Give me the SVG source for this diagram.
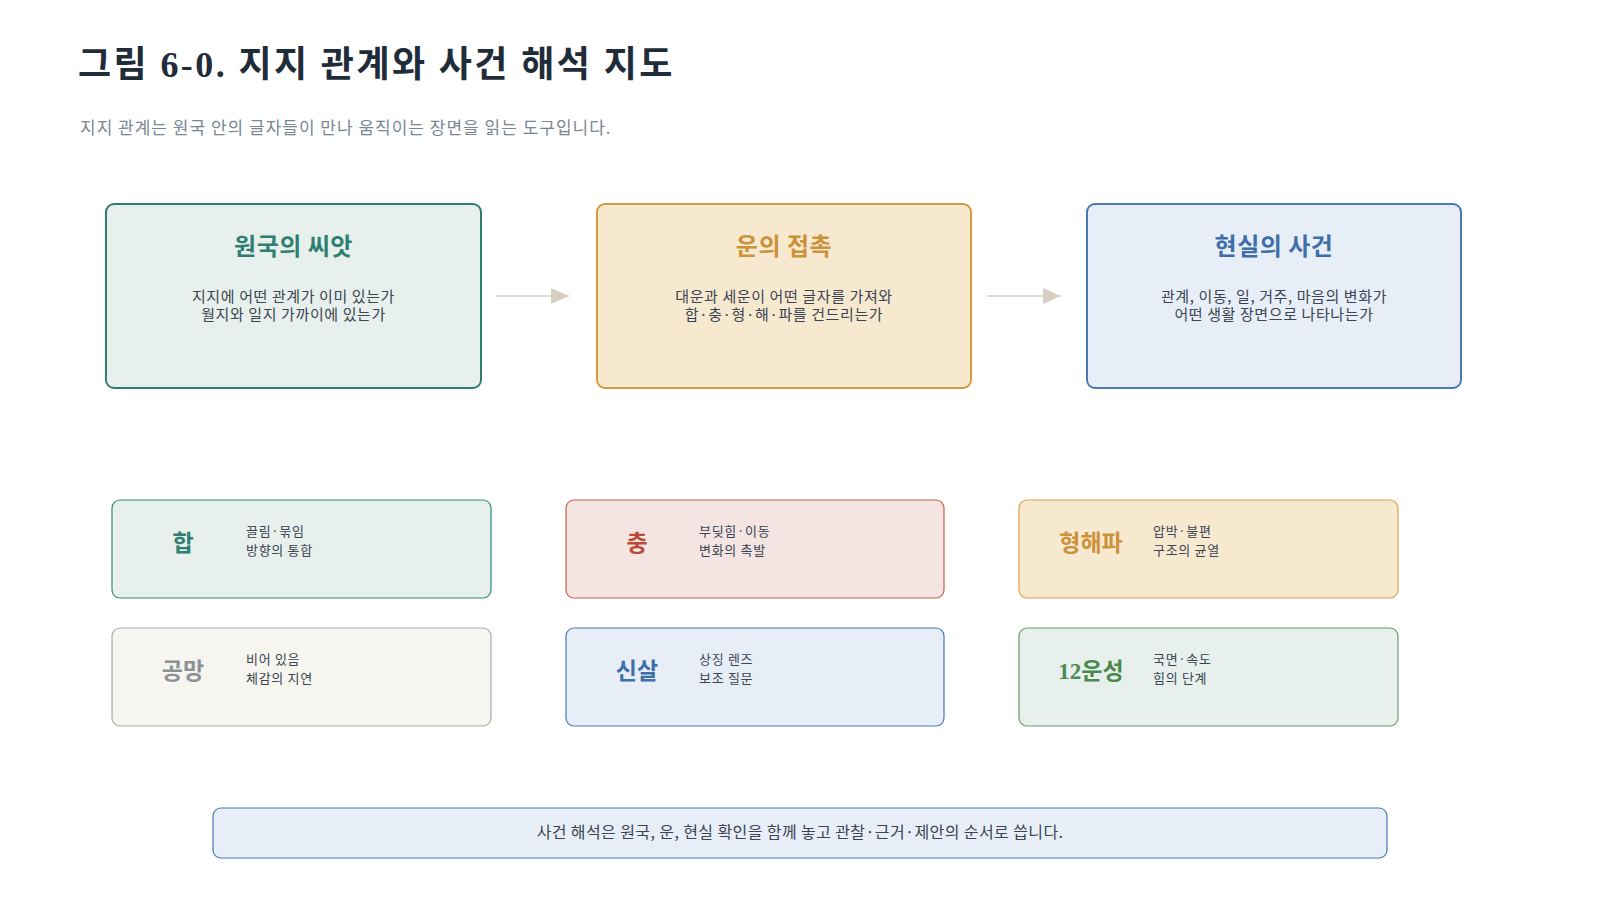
<svg xmlns="http://www.w3.org/2000/svg" width="1600" height="900" viewBox="0 0 1600 900">
<defs>
<style>
.serif{font-family:"Liberation Serif","Noto Sans CJK KR",serif;}
.sans{font-family:"Noto Sans CJK KR","Noto Sans",sans-serif;}
.title{font-size:36px;font-weight:600;fill:#1f2c3a;letter-spacing:2.4px;}
.sub{font-size:17px;fill:#7b8693;letter-spacing:1px;}
.btitle{font-size:24px;font-weight:600;text-anchor:middle;letter-spacing:0.5px;}
.body{font-size:15px;fill:#3a4452;text-anchor:middle;letter-spacing:0.6px;}
.lbl{font-size:23px;font-weight:600;text-anchor:middle;}
.desc{font-size:13px;fill:#3a4452;letter-spacing:0.7px;}
.big{stroke-width:2;}
.small{stroke-width:1.2;}
.conn{stroke:#d6cfc2;stroke-width:1.5;fill:none;}
</style>
<marker id="ah" markerUnits="userSpaceOnUse" markerWidth="18" markerHeight="16" refX="18" refY="8" orient="auto">
<path d="M0,0 L18,8 L0,16 Z" fill="#d6cfc2"/>
</marker>
</defs>
<rect width="1600" height="900" fill="#ffffff"/>
<text class="serif title" x="78" y="77">그림 6-0. 지지 관계와 사건 해석 지도</text>
<text class="sans sub" x="80" y="134">지지 관계는 원국 안의 글자들이 만나 움직이는 장면을 읽는 도구입니다.</text>

<g id="connectors">
<line class="conn" x1="496" y1="296" x2="569" y2="296" marker-end="url(#ah)"/>
<line class="conn" x1="987" y1="296" x2="1061" y2="296" marker-end="url(#ah)"/>
</g>

<g id="node-seed">
<rect class="big" x="106" y="204" width="375" height="184" rx="8" fill="#e7f0ec" stroke="#2f7f71"/>
<text class="sans btitle" x="293.5" y="255" fill="#2f7f71">원국의 씨앗</text>
<text class="sans body" x="293.5" y="302">지지에 어떤 관계가 이미 있는가</text>
<text class="sans body" x="293.5" y="320">월지와 일지 가까이에 있는가</text>
</g>
<g id="node-contact">
<rect class="big" x="597" y="204" width="374" height="184" rx="8" fill="#f7e9d0" stroke="#d49a3e"/>
<text class="sans btitle" x="784" y="255" fill="#cc923a">운의 접촉</text>
<text class="sans body" x="784" y="302">대운과 세운이 어떤 글자를 가져와</text>
<text class="sans body" x="784" y="320">합·충·형·해·파를 건드리는가</text>
</g>
<g id="node-event">
<rect class="big" x="1087" y="204" width="374" height="184" rx="8" fill="#e8eef7" stroke="#4a78b3"/>
<text class="sans btitle" x="1274" y="255" fill="#3e6fa8">현실의 사건</text>
<text class="sans body" x="1274" y="302">관계, 이동, 일, 거주, 마음의 변화가</text>
<text class="sans body" x="1274" y="320">어떤 생활 장면으로 나타나는가</text>
</g>

<g id="node-hap">
<rect class="small" x="112" y="500" width="379" height="98" rx="8" fill="#e7f0ec" stroke="#2f8a7b"/>
<text class="serif lbl" x="183" y="551" fill="#2f7f71">합</text>
<text class="sans desc" x="246" y="536">끌림·묶임</text>
<text class="sans desc" x="246" y="555">방향의 통합</text>
</g>
<g id="node-chung">
<rect class="small" x="566" y="500" width="378" height="98" rx="8" fill="#f5e5e2" stroke="#c8604c"/>
<text class="serif lbl" x="637" y="551" fill="#b94a3a">충</text>
<text class="sans desc" x="699" y="536">부딪힘·이동</text>
<text class="sans desc" x="699" y="555">변화의 촉발</text>
</g>
<g id="node-hyeong">
<rect class="small" x="1019" y="500" width="379" height="98" rx="8" fill="#f7e9d0" stroke="#d9a04a"/>
<text class="serif lbl" x="1091" y="551" fill="#cc923a">형해파</text>
<text class="sans desc" x="1153" y="536">압박·불편</text>
<text class="sans desc" x="1153" y="555">구조의 균열</text>
</g>
<g id="node-gongmang">
<rect class="small" x="112" y="628" width="379" height="98" rx="8" fill="#f6f5f0" stroke="#a9abae"/>
<text class="serif lbl" x="183" y="679" fill="#8b9095">공망</text>
<text class="sans desc" x="246" y="664">비어 있음</text>
<text class="sans desc" x="246" y="683">체감의 지연</text>
</g>
<g id="node-sinsal">
<rect class="small" x="566" y="628" width="378" height="98" rx="8" fill="#e8eef7" stroke="#4a78b3"/>
<text class="serif lbl" x="637" y="679" fill="#3e6fa8">신살</text>
<text class="sans desc" x="699" y="664">상징 렌즈</text>
<text class="sans desc" x="699" y="683">보조 질문</text>
</g>
<g id="node-unseong">
<rect class="small" x="1019" y="628" width="379" height="98" rx="8" fill="#e7f0ec" stroke="#6d9c6d"/>
<text class="serif lbl" x="1091" y="679" fill="#4b8a4e">12운성</text>
<text class="sans desc" x="1153" y="664">국면·속도</text>
<text class="sans desc" x="1153" y="683">힘의 단계</text>
</g>

<g id="node-note">
<rect x="213" y="808" width="1174" height="50" rx="8" fill="#e8eef7" stroke="#4a78b3" stroke-width="1.2"/>
<text class="sans" x="800" y="838" font-size="16" letter-spacing="0.4" fill="#3a4452" text-anchor="middle">사건 해석은 원국, 운, 현실 확인을 함께 놓고 관찰·근거·제안의 순서로 씁니다.</text>
</g>
</svg>
